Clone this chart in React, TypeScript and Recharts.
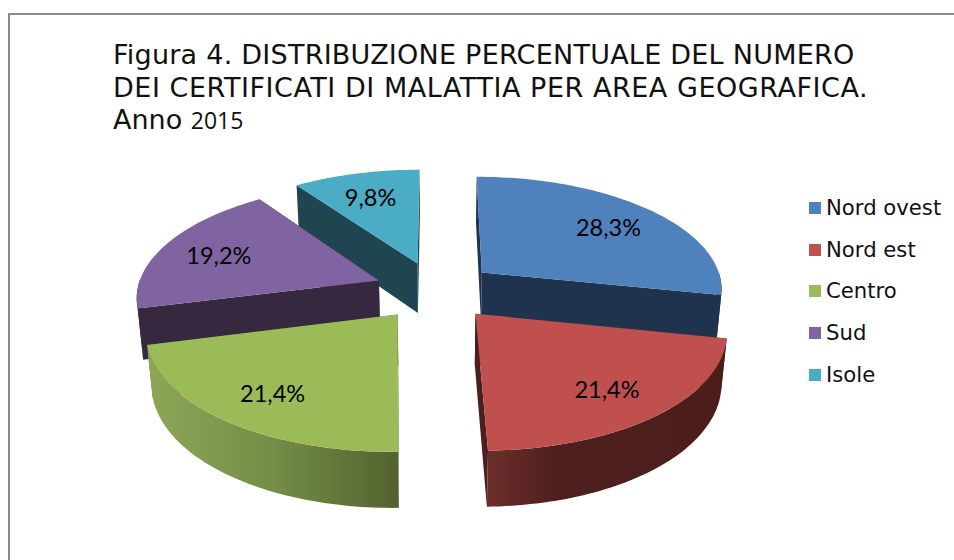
import React from "react";
import { PieChart, Pie, Legend } from "recharts";

const areas = ["Nord ovest", "Nord est", "Centro", "Sud", "Isole"];
const shares = [28.3, 21.4, 21.4, 19.2, 9.8];
const shareLabels = ["28,3%", "21,4%", "21,4%", "19,2%", "9,8%"];
const topColors = ["#4f81bd", "#c0504d", "#9bbb59", "#8064a2", "#4bacc6"];
const wallColors = ["#1f334e", "#4b1f1d", "#5a6b33", "#35283f", "#1f4650"];
const rimFrom = ["#1f334e", "#6b2e2a", "#8ea756", "#35283f", "#1f4650"];
const rimMid = ["#1f334e", "#4d1f1d", "#748d47", "#35283f", "#1f4650"];
const rimTo = ["#1f334e", "#4b1e1c", "#52622e", "#35283f", "#1f4650"];
const rimMidAt = ["0.5", "0.3", "0.5", "0.5", "0.5"];
const titleLines = [
  "Figura 4. DISTRIBUZIONE PERCENTUALE DEL NUMERO",
  "DEI CERTIFICATI DI MALATTIA PER AREA GEOGRAFICA.",
];
const titleSpacing = [0.24, 0.54];
const titleYear = ["Anno ", "2015"];

const rows = areas.map((name, i) => ({
  name,
  value: shares[i],
  label: shareLabels[i],
  fill: topColors[i],
  idx: i,
}));
const wallRows = [...rows].reverse();

// 3D look of the pie: tilt, perspective and explosion
const CX = 435.5;
const CY = 290.6;
const RADIUS = 242;
const SQUASH = 112.6;
const PERSP = 0.13;
const EXPLODE_U = 0.252;
const EXPLODE_V = 0.26;
const DEPTH = 51.3;
const DEPTH_W = 0.0185;

const rad = (d: number) => (d * Math.PI) / 180;

function project(u: number, v: number, low = false) {
  const w = 1 + PERSP * v + (low ? DEPTH_W : 0);
  return {
    x: CX + (RADIUS * u) / w,
    y: CY + (-SQUASH * v + (low ? DEPTH : 0)) / w,
  };
}

function sliceGeom(props: any) {
  const a = Math.min(props.startAngle, props.endAngle);
  const b = Math.max(props.startAngle, props.endAngle);
  const from = 90 - b; // clockwise from the top
  const to = 90 - a;
  const mid = (from + to) / 2;
  const ou = EXPLODE_U * Math.sin(rad(mid));
  const ov = EXPLODE_V * Math.cos(rad(mid));
  return { from, to, mid, ou, ov };
}

function pts(list: { x: number; y: number }[]) {
  return list.map((p) => `${p.x.toFixed(1)},${p.y.toFixed(1)}`).join(" ");
}

function TopShape(props: any) {
  const { from, to, ou, ov } = sliceGeom(props);
  const list = [project(ou, ov)];
  for (let t = from; t <= to + 0.001; t += (to - from) / 60) {
    list.push(project(ou + Math.sin(rad(t)), ov + Math.cos(rad(t))));
  }
  return <polygon points={pts(list)} fill={props.fill} stroke="none" />;
}

function WallShape(props: any) {
  const { from, to, ou, ov } = sliceGeom(props);
  const idx = props.idx ?? props.payload?.idx ?? 0;

  const radial = (t: number) => {
    const eu = ou + Math.sin(rad(t));
    const ev = ov + Math.cos(rad(t));
    return [project(ou, ov), project(eu, ev), project(eu, ev, true), project(ou, ov, true)];
  };

  // only the part of the rim that faces the viewer
  const upper: { x: number; y: number }[] = [];
  const lower: { x: number; y: number }[] = [];
  for (let t = from; t <= to + 0.001; t += (to - from) / 60) {
    if (Math.cos(rad(t)) > 0.03) continue;
    const eu = ou + Math.sin(rad(t));
    const ev = ov + Math.cos(rad(t));
    upper.push(project(eu, ev));
    lower.unshift(project(eu, ev, true));
  }

  const gid = `rim-${idx}`;
  return (
    <g>
      <defs>
        <linearGradient id={gid} x1="0" y1="0" x2="1" y2="0">
          <stop offset="0" stopColor={rimFrom[idx]} />
          <stop offset={rimMidAt[idx]} stopColor={rimMid[idx]} />
          <stop offset="1" stopColor={rimTo[idx]} />
        </linearGradient>
      </defs>
      <polygon points={pts(radial(from))} fill={wallColors[idx]} />
      <polygon points={pts(radial(to))} fill={wallColors[idx]} />
      {upper.length > 1 && <polygon points={pts([...upper, ...lower])} fill={`url(#${gid})`} />}
    </g>
  );
}

function SliceLabel(props: any) {
  const { ou, ov, mid } = sliceGeom(props);
  const t = 0.745;
  const p = project(ou + t * Math.sin(rad(mid)), ov + t * Math.cos(rad(mid)));
  return (
    <text
      x={p.x}
      y={p.y + 2}
      textAnchor="middle"
      dominantBaseline="central"
      fontFamily="Lato, sans-serif"
      fontSize={23.5}
      fill="#000"
    >
      {props.payload?.label ?? props.label}
    </text>
  );
}

function LegendList() {
  return (
    <div style={{ fontFamily: "'DejaVu Sans', sans-serif", fontSize: 21.2, color: "#111" }}>
      {areas.map((name, i) => (
        <div key={name} style={{ height: 41.7, lineHeight: "24px", display: "flex", alignItems: "flex-start" }}>
          <span
            style={{
              display: "inline-block",
              width: 12,
              height: 12,
              background: topColors[i],
              marginTop: 6,
              marginRight: 5,
            }}
          />
          {name}
        </div>
      ))}
    </div>
  );
}

export default function App() {
  return (
    <div
      style={{
        position: "fixed",
        left: 0,
        top: 0,
        width: 954,
        height: 560,
        overflow: "hidden",
        background: "#fff",
      }}
    >
      <div
        style={{
          position: "absolute",
          left: 8,
          top: 13,
          width: 1000,
          height: 600,
          border: "2px solid #8c8c8c",
        }}
      />
      <div
        style={{
          position: "absolute",
          left: 113,
          top: 39,
          fontFamily: "'DejaVu Sans', sans-serif",
          fontSize: 27,
          lineHeight: "32.5px",
          color: "#111",
          whiteSpace: "nowrap",
        }}
      >
        {titleLines.map((line, i) => (
          <div key={line} style={{ letterSpacing: titleSpacing[i] }}>
            {line}
          </div>
        ))}
        <div>
          {titleYear[0]}
          <span style={{ fontFamily: "'Open Sans', sans-serif", fontSize: 23 }}>{titleYear[1]}</span>
        </div>
      </div>
      <div style={{ position: "absolute", left: 0, top: 0 }}>
        <PieChart width={954} height={560} margin={{ top: 0, right: 0, bottom: 0, left: 0 }}>
          <Pie
            data={wallRows}
            dataKey="value"
            nameKey="name"
            cx={CX}
            cy={CY}
            outerRadius={RADIUS}
            startAngle={90}
            endAngle={450}
            stroke="none"
            legendType="none"
            isAnimationActive={false}
            shape={WallShape}
          />
          <Pie
            data={rows}
            dataKey="value"
            nameKey="name"
            cx={CX}
            cy={CY}
            outerRadius={RADIUS}
            startAngle={90}
            endAngle={-270}
            stroke="none"
            isAnimationActive={false}
            labelLine={false}
            label={SliceLabel}
            shape={TopShape}
          />
          <Legend
            layout="vertical"
            content={<LegendList />}
            wrapperStyle={{ position: "absolute", left: 809, top: 196, width: 145 }}
          />
        </PieChart>
      </div>
    </div>
  );
}
